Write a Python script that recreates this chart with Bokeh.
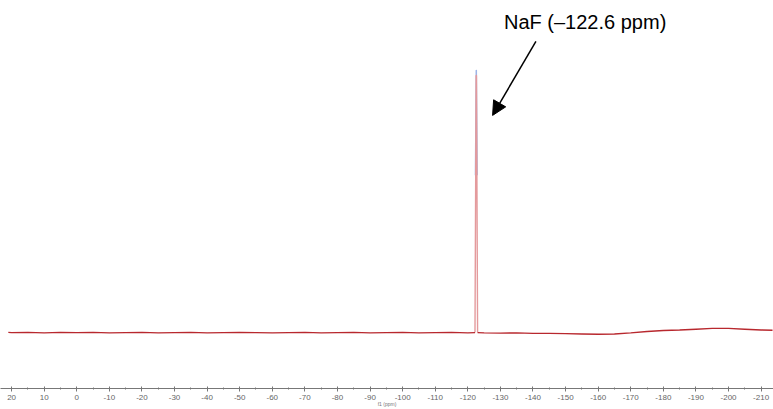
from bokeh.plotting import figure
from bokeh.models import Range1d, FixedTicker, Arrow, NormalHead, CustomJSTickFormatter
from bokeh.core.properties import value
from bokeh.embed import file_html
from bokeh.resources import INLINE

# chemical shift (ppm) and intensity of the 19F spectrum (red trace)
ppm = [21, 20, 15, 10, 5, 0, -5, -10, -15, -20, -25, -30, -35, -40, -45, -50,
       -55, -60, -65, -70, -75, -80, -85, -90, -95, -100, -105, -110, -115,
       -120, -122.2, -122.55, -122.65, -123.0, -125, -130, -135, -140, -145,
       -150, -155, -160, -165, -170, -175, -180, -185, -190, -195, -200, -205,
       -210, -213.5]
intensity = [0.1, 0.0, 0.1, -0.1, 0.1, 0.0, 0.1, -0.1, 0.0, 0.1, -0.1, 0.0, 0.1,
             -0.1, 0.0, 0.1, 0.0, -0.1, 0.0, 0.1, -0.1, 0.0, 0.1, -0.1, 0.0, 0.1,
             -0.1, 0.0, 0.1, -0.1, 0.0, 98.0, 98.0, 0.0, -0.1, -0.2, -0.1, -0.3,
             -0.3, -0.4, -0.5, -0.6, -0.5, -0.1, 0.4, 0.8, 1.0, 1.3, 1.6, 1.6,
             1.3, 1.0, 0.9]

# overlaid blue trace, visible only at the peak top
ppm_blue = [-122.3, -122.55, -122.65, -122.9]
intensity_blue = [60.0, 100.0, 100.0, 60.0]

peak_label = "NaF (\u2013122.6 ppm)"
peak_ppm = -122.6

major_ticks = list(range(20, -211, -10))
minor_ticks = list(range(20, -214, -5))

# split the trace into baseline parts and the peak part (for colouring)
hi = [i for i, v in enumerate(intensity) if v > 5]
i0, i1 = hi[0] - 1, hi[-1] + 1

p = figure(width=773, height=409, output_backend="svg", toolbar_location=None,
           x_range=Range1d(23.4, -213.8), y_range=Range1d(-21.3, 126.6),
           min_border_left=0, min_border_right=0, min_border_top=0,
           min_border_bottom=0)
p.outline_line_color = None
p.xgrid.visible = False
p.ygrid.visible = False
p.yaxis.visible = False
p.background_fill_color = "white"
p.border_fill_color = "white"

p.line(ppm_blue, intensity_blue, line_color="#9db4e6", line_width=1.2)
p.line(ppm[i0:i1 + 1], intensity[i0:i1 + 1], line_color="#e49a9c", line_width=1.4)
p.line(ppm[:i0 + 1], intensity[:i0 + 1], line_color="#b8282e", line_width=1.4)
p.line(ppm[i1:], intensity[i1:], line_color="#b8282e", line_width=1.4)

ax = p.xaxis[0]
ax.ticker = FixedTicker(ticks=major_ticks, minor_ticks=minor_ticks)
ax.formatter = CustomJSTickFormatter(code="return tick.toString();")
ax.axis_line_color = "#777777"
ax.major_tick_line_color = "#777777"
ax.minor_tick_line_color = "#777777"
ax.major_tick_in = 2
ax.major_tick_out = 3
ax.minor_tick_in = 1
ax.minor_tick_out = 1
ax.major_label_text_font = "Liberation Sans"
ax.major_label_text_font_size = "8px"
ax.major_label_text_color = "#666666"
ax.major_label_standoff = 3
ax.axis_label = "f1 (ppm)"
ax.axis_label_text_font = "Liberation Sans"
ax.axis_label_text_font_size = "5px"
ax.axis_label_text_font_style = "normal"
ax.axis_label_text_color = "#777777"
ax.axis_label_standoff = -2

p.text(x=[peak_ppm - 33.4], y=[118.5], text=[peak_label],
       text_font=value("Liberation Sans"), text_font_size="20px",
       text_align="center", text_baseline="middle", text_color="black")

p.add_layout(Arrow(end=NormalHead(size=14, fill_color="black", line_color="black"),
                   x_start=peak_ppm - 18.3, y_start=111.0,
                   x_end=peak_ppm - 5.0, y_end=82.8,
                   line_color="black", line_width=1.5))

open("out.html", "w").write(file_html(p, INLINE))
